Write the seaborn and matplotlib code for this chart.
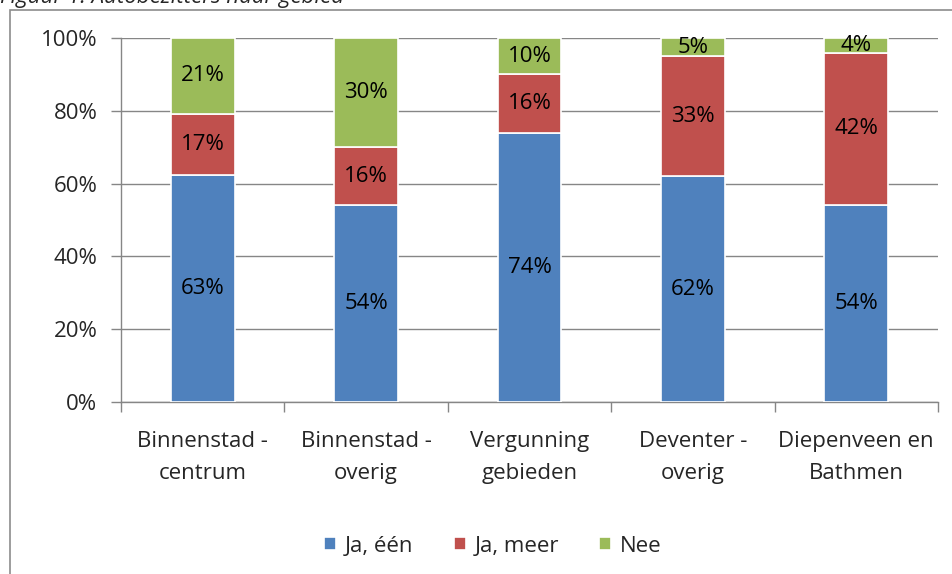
import numpy as np
import matplotlib
matplotlib.use("Agg")
import matplotlib.pyplot as plt
import seaborn as sns
from matplotlib.patches import Rectangle

categories = ["Binnenstad -\ncentrum", "Binnenstad -\noverig", "Vergunning\ngebieden",
              "Deventer -\noverig", "Diepenveen en\nBathmen"]
ja_een = [63, 54, 74, 62, 54]
ja_meer = [17, 16, 16, 33, 42]
nee = [21, 30, 10, 5, 4]

series = ["Ja, één", "Ja, meer", "Nee"]
colors = ["#4F81BD", "#C0504D", "#9BBB59"]

sns.set_style("white")
plt.rcParams['font.family'] = ['Open Sans', 'DejaVu Sans']

raw = np.array([ja_een, ja_meer, nee], dtype=float)
# Excel 100% stacked: normalise each column
shares = raw / raw.sum(axis=0) * 100

fig = plt.figure(figsize=(9.52, 5.74), dpi=100)
ax = fig.add_axes([121 / 952, 1 - 402 / 574, (938 - 121) / 952, (402 - 38) / 574])

grid_c = "#868686"
fs = 16
bottom = np.zeros(len(categories))
for i, name in enumerate(series):
    sns.barplot(x=categories, y=shares[i], bottom=bottom, color=colors[i], width=0.39,
                saturation=1, edgecolor="white", linewidth=1.2, label=name, ax=ax, zorder=3)
    for j, v in enumerate(shares[i]):
        ax.text(j, bottom[j] + v / 2, f"{int(raw[i][j])}%", ha="center", va="center",
                fontsize=fs, color="black", zorder=4)
    bottom = bottom + shares[i]

ax.set_xlim(-0.5, len(categories) - 0.5)
ax.set_ylim(0, 100)
ax.set_yticks(np.arange(0, 101, 20))
ax.set_yticklabels([f"{t}%" for t in range(0, 101, 20)], fontsize=fs)
ax.yaxis.grid(True, color=grid_c, lw=1, zorder=0)
ax.set_axisbelow(True)
ax.tick_params(axis="y", length=7, width=1, color=grid_c, pad=10, left=True)
ax.tick_params(axis="x", length=0, pad=21, labelsize=fs)
ax.set_xticks(np.arange(len(categories)))
ax.set_xticklabels(categories, fontsize=fs, linespacing=1.65)
ax.set_xticks(np.arange(-0.5, len(categories)), minor=True)
ax.tick_params(axis="x", which="minor", length=7, width=1, color=grid_c, bottom=True)

for s in ["top", "right"]:
    ax.spines[s].set_visible(False)
for s in ["left", "bottom"]:
    ax.spines[s].set_color(grid_c)
    ax.spines[s].set_linewidth(1)
ax.set_xlabel("")
ax.set_ylabel("")

handles, labels = ax.get_legend_handles_labels()
fig.legend(handles, labels, loc="center", bbox_to_anchor=(493 / 952, 1 - 546 / 574),
           ncol=3, frameon=False, fontsize=fs, handlelength=0.55, handleheight=0.55,
           handletextpad=0.4, columnspacing=1.8)
if ax.get_legend():
    ax.get_legend().remove()

# outer chart frame (clipped by the figure edges)
fig.patches.append(Rectangle((10 / 952, -0.1), 1.2, 1 - 10 / 574 + 0.1,
                             transform=fig.transFigure, fill=False,
                             edgecolor="#8C8C8C", lw=1.2))

fig.text(0.0, 1 - 3 / 574, "Figuur 1: Autobezitters naar gebied", ha="left",
         va="baseline", fontsize=fs, style="italic")

fig.savefig("out.png", dpi=100)
